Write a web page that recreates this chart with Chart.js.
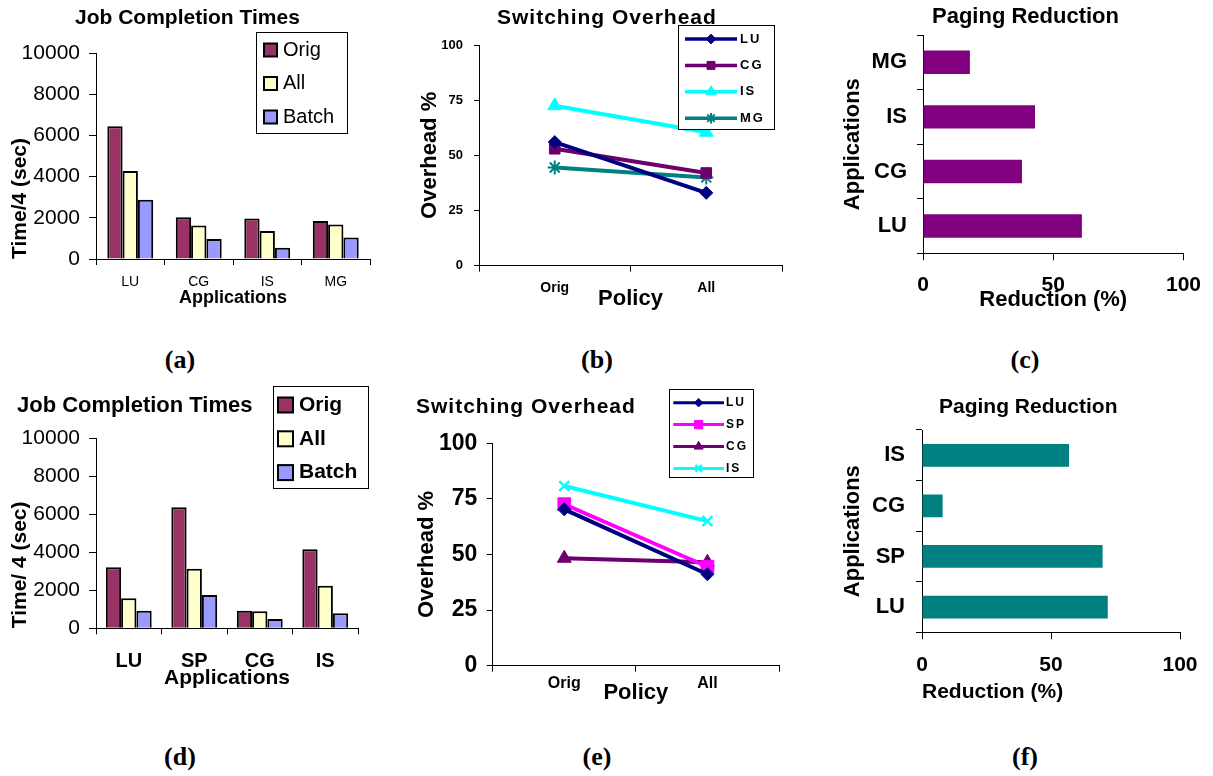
<!DOCTYPE html>
<html>
<head>
<meta charset="utf-8">
<script src="https://cdn.jsdelivr.net/npm/chart.js@4.4.0/dist/chart.umd.min.js"></script>
<style>
  body { margin: 0; background: #fff; }
  #page { position: relative; width: 1213px; height: 776px; overflow: hidden; background: #fff; }
  canvas { position: absolute; }
  .txt { position: absolute; line-height: 1; white-space: nowrap; color: #000; font-weight: bold; }
</style>
</head>
<body>
<div id="page">
  <canvas id="chartA" width="400" height="330" style="left:0px;top:0px"></canvas>
  <canvas id="chartB" width="400" height="330" style="left:400px;top:0px"></canvas>
  <canvas id="chartC" width="413" height="330" style="left:800px;top:0px"></canvas>
  <canvas id="chartD" width="400" height="320" style="left:0px;top:380px"></canvas>
  <canvas id="chartE" width="400" height="340" style="left:400px;top:380px"></canvas>
  <canvas id="chartF" width="413" height="340" style="left:800px;top:380px"></canvas>
</div>
<script>
// ---- data ----
// (a) job completion times, first set
const appsA = ['LU', 'CG', 'IS', 'MG'];
const origA = [6450, 2030, 1960, 1840];
const allA = [4270, 1630, 1360, 1680];
const batchA = [2880, 970, 550, 1040];

// (d) job completion times, second set
const appsD = ['LU', 'SP', 'CG', 'IS'];
const origD = [3210, 6370, 930, 4160];
const allD = [1580, 3140, 900, 2240];
const batchD = [930, 1750, 490, 790];

const timeTicks = [0, 2000, 4000, 6000, 8000, 10000];

// (b) switching overhead, first set
const policies = ['Orig', 'All'];
const ovLuB = [56, 33];
const ovCgB = [53, 42];
const ovIsB = [72.5, 60.5];
const ovMgB = [44.5, 40];

// (e) switching overhead, second set
const ovLuE = [70.3, 41.1];
const ovSpE = [72.6, 44.5];
const ovCgE = [48.3, 46.5];
const ovIsE = [80.8, 65];

const overheadTicks = [0, 25, 50, 75, 100];

// (c), (f) paging reduction, listed top to bottom
const appsC = ['MG', 'IS', 'CG', 'LU'];
const reductionC = [18, 43, 38, 61];
const appsF = ['IS', 'CG', 'SP', 'LU'];
const reductionF = [57, 8, 70, 72];

const pctTicks = [0, 50, 100];

// ---- styling ----
const SANS = '"Liberation Sans", Arial, sans-serif';
const SERIF = '"Liberation Serif", "Times New Roman", serif';

const ORIG = '#993366', ALL = '#FFFFCC', BATCH = '#9999FF';
const NAVY = '#000080', PURPLE = '#6E006E', CYAN = '#00FFFF', TEAL = '#008080', MAGENTA = '#FF00FF';

Chart.defaults.font.family = SANS;
Chart.defaults.color = '#000';
Chart.defaults.animation = false;
Chart.defaults.plugins.legend.display = false;
Chart.defaults.plugins.tooltip.enabled = false;

function font(size, bold) {
  return { family: SANS, size: size, weight: bold ? 'bold' : 'normal' };
}

// one axis, with fixed box size so the plot area lands where we want
function scale(o) {
  const s = {
    grid: { drawOnChartArea: false, drawTicks: true, tickLength: o.tl, color: '#000', offset: !!o.offset },
    border: { display: true, color: '#000', width: 1 },
    ticks: { font: o.tickFont, color: '#000', padding: o.pad, autoSkip: false, maxRotation: 0, minRotation: 0 },
    title: { display: true, text: o.title, font: o.titleFont, color: '#000', align: o.align || 'center', padding: o.titlePad || 0 },
    afterFit: sc => {
      if (o.w != null) sc.width = o.w;
      if (o.h != null) sc.height = o.h;
    }
  };
  if (o.offset) s.offset = true;
  if (o.min != null) { s.min = o.min; s.max = o.max; }
  if (o.tickValues) {
    s.afterBuildTicks = sc => { sc.ticks = o.tickValues.map(v => ({ value: v })); };
    s.ticks.callback = v => String(v);
  }
  return s;
}

// boxed legend drawn at a fixed spot inside the canvas
const boxLegend = {
  id: 'boxLegend',
  afterDraw(chart, args, o) {
    if (o.boxW == null) return;
    const ctx = chart.ctx;
    ctx.save();
    ctx.fillStyle = '#fff';
    ctx.fillRect(o.boxX, o.boxY, o.boxW, o.boxH);
    ctx.strokeStyle = '#000';
    ctx.lineWidth = 1;
    ctx.strokeRect(o.boxX + 0.5, o.boxY + 0.5, o.boxW, o.boxH);
    chart.data.datasets.forEach((ds, i) => {
      const y = o.rowY + i * o.rowStep;
      if (o.kind === 'swatch') {
        ctx.fillStyle = ds.backgroundColor;
        ctx.fillRect(o.markX, y - o.mark / 2, o.mark, o.mark);
        ctx.lineWidth = 2;
        ctx.strokeStyle = '#000';
        ctx.strokeRect(o.markX, y - o.mark / 2, o.mark, o.mark);
      } else {
        ctx.strokeStyle = ds.borderColor;
        ctx.lineWidth = o.lineWidth;
        ctx.beginPath();
        ctx.moveTo(o.markX, y);
        ctx.lineTo(o.markX + o.mark, y);
        ctx.stroke();
        const bw = ds.pointBorderWidth || 1;
        ctx.fillStyle = ds.backgroundColor;
        ctx.lineWidth = bw;
        Chart.helpers.drawPoint(ctx, {
          pointStyle: ds.pointStyle, rotation: 0,
          radius: ds.pointRadius * o.pointScale, borderWidth: bw
        }, o.markX + o.mark / 2, y);
      }
      ctx.fillStyle = '#000';
      ctx.font = o.font;
      ctx.letterSpacing = o.spacing || '0px';
      ctx.textBaseline = 'middle';
      ctx.textAlign = 'left';
      ctx.fillText(ds.label, o.textX, y);
      ctx.letterSpacing = '0px';
    });
    ctx.restore();
  }
};
Chart.register(boxLegend);

// ---- (a) ----
new Chart(document.getElementById('chartA'), {
  type: 'bar',
  data: {
    labels: appsA,
    datasets: [
      { label: 'Orig', data: origA, backgroundColor: ORIG },
      { label: 'All', data: allA, backgroundColor: ALL },
      { label: 'Batch', data: batchA, backgroundColor: BATCH }
    ]
  },
  options: {
    responsive: false,
    layout: { padding: { left: 0, top: 53, right: 30, bottom: 21.2 } },
    datasets: { bar: { categoryPercentage: 0.67, barPercentage: 1, borderColor: '#000', borderWidth: 2 } },
    scales: {
      x: scale({ offset: true, tl: 6, pad: 9, tickFont: font(14), title: 'Applications', titleFont: font(18, true), h: 49.8 }),
      y: scale({ min: 0, max: 10000, tickValues: timeTicks, tl: 7, pad: 9, tickFont: font(21),
        title: 'Time/4 (sec)', titleFont: font(21, true), align: 'start', titlePad: { top: 7.4, bottom: 0 }, w: 96 })
    },
    plugins: {
      boxLegend: { kind: 'swatch', boxX: 256, boxY: 32, boxW: 91, boxH: 101, rowY: 50, rowStep: 33.5,
        markX: 264, mark: 13, textX: 283, font: '20px ' + SANS }
    }
  }
});

// ---- (d) ----
new Chart(document.getElementById('chartD'), {
  type: 'bar',
  data: {
    labels: appsD,
    datasets: [
      { label: 'Orig', data: origD, backgroundColor: ORIG },
      { label: 'All', data: allD, backgroundColor: ALL },
      { label: 'Batch', data: batchD, backgroundColor: BATCH }
    ]
  },
  options: {
    responsive: false,
    layout: { padding: { left: 0, top: 58.3, right: 42, bottom: 9.4 } },
    datasets: { bar: { categoryPercentage: 0.7, barPercentage: 1, borderColor: '#000', borderWidth: 2 } },
    scales: {
      x: scale({ offset: true, tl: 6, pad: 14.7, tickFont: font(20, true), title: 'Applications', titleFont: font(21, true), h: 62.3 }),
      y: scale({ min: 0, max: 10000, tickValues: timeTicks, tl: 7, pad: 9, tickFont: font(21),
        title: 'Time/ 4 (sec)', titleFont: font(21, true), align: 'start', titlePad: { top: 7.4, bottom: 0 }, w: 96 })
    },
    plugins: {
      boxLegend: { kind: 'swatch', boxX: 273, boxY: 6, boxW: 95, boxH: 102, rowY: 25, rowStep: 33.8,
        markX: 278, mark: 15, textX: 299, font: 'bold 21px ' + SANS }
    }
  }
});

// ---- (b) ----
new Chart(document.getElementById('chartB'), {
  type: 'line',
  data: {
    labels: policies,
    datasets: [
      { label: 'LU', data: ovLuB, borderColor: NAVY, backgroundColor: NAVY, pointStyle: 'rectRot', pointRadius: 6.5 },
      { label: 'CG', data: ovCgB, borderColor: PURPLE, backgroundColor: PURPLE, pointStyle: 'rect', pointRadius: 7.5 },
      { label: 'IS', data: ovIsB, borderColor: CYAN, backgroundColor: CYAN, pointStyle: 'triangle', pointRadius: 8 },
      { label: 'MG', data: ovMgB, borderColor: TEAL, backgroundColor: TEAL, pointStyle: 'star', pointRadius: 7, pointBorderWidth: 2 }
    ]
  },
  options: {
    responsive: false,
    layout: { padding: { left: 0, top: 45, right: 18, bottom: 17.8 } },
    datasets: { line: { borderWidth: 4, fill: false, tension: 0, pointBorderWidth: 1 } },
    scales: {
      x: scale({ offset: true, tl: 6, pad: 7.6, tickFont: font(14, true), title: 'Policy', titleFont: font(22, true), h: 46.5 }),
      y: scale({ min: 0, max: 100, tickValues: overheadTicks, tl: 5, pad: 11, tickFont: font(13, true),
        title: 'Overhead %', titleFont: font(22, true), titlePad: { top: 16.8, bottom: 0 }, w: 79 })
    },
    plugins: {
      boxLegend: { kind: 'line', boxX: 278, boxY: 25, boxW: 96, boxH: 104, rowY: 39, rowStep: 26.4,
        markX: 285, mark: 52, lineWidth: 3.5, pointScale: 0.75, textX: 340, font: 'bold 13px ' + SANS, spacing: '2px' }
    }
  }
});

// ---- (e) ----
new Chart(document.getElementById('chartE'), {
  type: 'line',
  data: {
    labels: policies,
    datasets: [
      { label: 'LU', data: ovLuE, borderColor: NAVY, backgroundColor: NAVY, pointStyle: 'rectRot', pointRadius: 6.5 },
      { label: 'SP', data: ovSpE, borderColor: MAGENTA, backgroundColor: MAGENTA, pointStyle: 'rect', pointRadius: 9 },
      { label: 'CG', data: ovCgE, borderColor: PURPLE, backgroundColor: PURPLE, pointStyle: 'triangle', pointRadius: 8 },
      { label: 'IS', data: ovIsE, borderColor: CYAN, backgroundColor: CYAN, pointStyle: 'crossRot', pointRadius: 7, pointBorderWidth: 2.5 }
    ]
  },
  options: {
    responsive: false,
    layout: { padding: { left: 0, top: 63.3, right: 21, bottom: 14.3 } },
    datasets: { line: { borderWidth: 4, fill: false, tension: 0, pointBorderWidth: 1 } },
    scales: {
      x: scale({ offset: true, tl: 6, pad: 2, tickFont: font(16, true), title: 'Policy', titleFont: font(22, true), h: 40 }),
      y: scale({ min: 0, max: 100, tickValues: overheadTicks, tl: 6, pad: 9.4, tickFont: font(23, true),
        title: 'Overhead %', titleFont: font(22, true), titlePad: { top: 13.5, bottom: 0 }, w: 92.7 })
    },
    plugins: {
      boxLegend: { kind: 'line', boxX: 269, boxY: 9, boxW: 84, boxH: 88, rowY: 22.7, rowStep: 21.9,
        markX: 273.3, mark: 50.7, lineWidth: 3, pointScale: 0.65, textX: 326, font: 'bold 12px ' + SANS, spacing: '2px' }
    }
  }
});

// ---- (c) ----
new Chart(document.getElementById('chartC'), {
  type: 'bar',
  data: {
    labels: appsC,
    datasets: [{ label: 'Reduction', data: reductionC, backgroundColor: '#800080' }]
  },
  options: {
    responsive: false,
    indexAxis: 'y',
    layout: { padding: { left: 0, top: 35, right: 23.7, bottom: 16.8 } },
    datasets: { bar: { categoryPercentage: 0.43, barPercentage: 1 } },
    scales: {
      x: scale({ min: 0, max: 100, tickValues: pctTicks, tl: 7, pad: 12, tickFont: font(21, true),
        title: 'Reduction (%)', titleFont: font(22, true), h: 59.9 }),
      y: scale({ offset: true, tl: 6, pad: 10, tickFont: font(22, true),
        title: 'Applications', titleFont: font(22, true), titlePad: { top: 39.8, bottom: 0 }, w: 123 })
    }
  }
});

// ---- (f) ----
new Chart(document.getElementById('chartF'), {
  type: 'bar',
  data: {
    labels: appsF,
    datasets: [{ label: 'Reduction', data: reductionF, backgroundColor: '#008080' }]
  },
  options: {
    responsive: false,
    indexAxis: 'y',
    layout: { padding: { left: 0, top: 50, right: 33, bottom: 15.4 } },
    datasets: { bar: { categoryPercentage: 0.45, barPercentage: 1 } },
    scales: {
      x: scale({ min: 0, max: 100, tickValues: pctTicks, tl: 7, pad: 13.6, tickFont: font(21, true),
        title: 'Reduction (%)', titleFont: font(21, true), align: 'start', h: 72.3 }),
      y: scale({ offset: true, tl: 6, pad: 11, tickFont: font(22, true),
        title: 'Applications', titleFont: font(22, true), titlePad: { top: 39.8, bottom: 0 }, w: 122 })
    }
  }
});

// ---- chart titles and panel captions ----
const textLayout = [
  { text: 'Job Completion Times', left: 75, base: 24, size: 21 },
  { text: 'Switching Overhead', left: 497, base: 24, size: 21, spacing: 1 },
  { text: 'Paging Reduction', left: 932, base: 24, size: 22 },
  { text: 'Job Completion Times', left: 17, base: 412.5, size: 22 },
  { text: 'Switching Overhead', left: 416, base: 412.3, size: 21, spacing: 1 },
  { text: 'Paging Reduction', left: 939, base: 412.3, size: 21 },
  { text: '(a)', cx: 180, base: 369, size: 26, serif: true },
  { text: '(b)', cx: 597, base: 369, size: 26, serif: true },
  { text: '(c)', cx: 1025, base: 369, size: 26, serif: true },
  { text: '(d)', cx: 180, base: 765.5, size: 26, serif: true },
  { text: '(e)', cx: 597, base: 765.5, size: 26, serif: true },
  { text: '(f)', cx: 1025, base: 765.5, size: 26, serif: true }
];

const page = document.getElementById('page');
textLayout.forEach(t => {
  const d = document.createElement('div');
  d.className = 'txt';
  d.textContent = t.text;
  d.style.fontFamily = t.serif ? SERIF : SANS;
  d.style.fontSize = t.size + 'px';
  d.style.top = (t.base - (t.serif ? 0.8375 : 0.8465) * t.size) + 'px';
  if (t.spacing) d.style.letterSpacing = t.spacing + 'px';
  if (t.cx != null) {
    d.style.left = t.cx + 'px';
    d.style.transform = 'translateX(-50%)';
  } else {
    d.style.left = t.left + 'px';
  }
  page.appendChild(d);
});
</script>
</body>
</html>
